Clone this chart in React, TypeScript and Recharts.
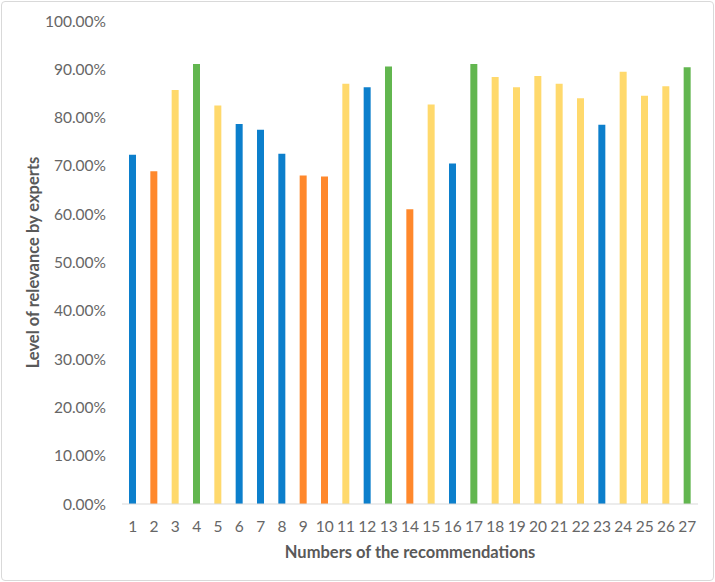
import React from "react";
import { BarChart, Bar, XAxis, YAxis, Cell, Label } from "recharts";

const recommendations = ["1","2","3","4","5","6","7","8","9","10","11","12","13","14","15","16","17","18","19","20","21","22","23","24","25","26","27"];
const relevance = [0.723, 0.689, 0.857, 0.911, 0.825, 0.787, 0.775, 0.725, 0.680, 0.678, 0.870, 0.863, 0.906, 0.610, 0.827, 0.705, 0.911, 0.884, 0.863, 0.886, 0.870, 0.840, 0.785, 0.895, 0.845, 0.865, 0.904];
const groups = ["blue","orange","yellow","green","yellow","blue","blue","blue","orange","orange","yellow","blue","green","orange","yellow","blue","green","yellow","yellow","yellow","yellow","yellow","blue","yellow","yellow","yellow","green"];
const yTicks = [0, 0.1, 0.2, 0.3, 0.4, 0.5, 0.6, 0.7, 0.8, 0.9, 1.0];

const palette: Record<string, string> = {
  blue: "#0C7FCC",
  orange: "#FF882C",
  yellow: "#FFD96C",
  green: "#62B64F",
};

const data = recommendations.map((r, i) => ({ name: r, value: relevance[i], group: groups[i] }));

const font = "Lato, 'Liberation Sans', sans-serif";

export default function App() {
  return (
    <div style={{ position: "absolute", left: 0, top: 0, width: 715, height: 582, background: "#fff" }}>
      <div
        style={{
          position: "absolute",
          left: 1,
          top: 1,
          width: 713,
          height: 580,
          boxSizing: "border-box",
          border: "1px solid #d9d9d9",
          borderRadius: 4,
        }}
      />
      <div style={{ position: "absolute", left: 0, top: 0 }}>
        <BarChart
          width={715}
          height={582}
          data={data}
          margin={{ top: 21, right: 17, bottom: 48, left: 0 }}
          barCategoryGap={0}
        >
          <XAxis
            dataKey="name"
            height={30}
            interval={0}
            tickLine={false}
            tickSize={0}
            tickMargin={17}
            axisLine={{ stroke: "#d9d9d9", strokeWidth: 1 }}
            tick={{ fill: "#666", fontSize: 15.5, fontFamily: font }}
          >
            <Label
              value="Numbers of the recommendations"
              position="bottom"
              offset={12}
              style={{ fill: "#595959", fontSize: 16.5, fontWeight: 700, fontFamily: font }}
            />
          </XAxis>
          <YAxis
            width={122}
            domain={[0, 1]}
            ticks={yTicks}
            interval={0}
            axisLine={false}
            tickLine={false}
            tickSize={0}
            tickMargin={16}
            tickFormatter={(v: number) => (v * 100).toFixed(2) + "%"}
            tick={{ fill: "#666", fontSize: 15.5, fontFamily: font }}
          >
            <Label
              value="Level of relevance by experts"
              angle={-90}
              position="insideLeft"
              offset={33}
              style={{ textAnchor: "middle", fill: "#595959", fontSize: 16.5, fontWeight: 700, fontFamily: font }}
            />
          </YAxis>
          <Bar dataKey="value" barSize={7} isAnimationActive={false}>
            {data.map((d, i) => (
              <Cell key={i} fill={palette[d.group]} />
            ))}
          </Bar>
        </BarChart>
      </div>
    </div>
  );
}
